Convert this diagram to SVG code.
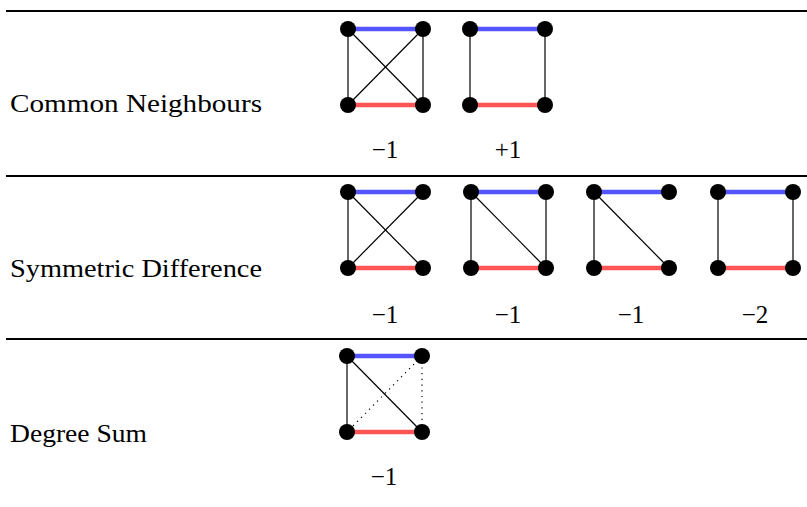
<svg xmlns="http://www.w3.org/2000/svg" width="807" height="507" viewBox="0 0 807 507">
<style>
.rule{stroke:#000;stroke-width:2}
.e{stroke:#000;stroke-width:1.2;fill:none}
.d{stroke:#000;stroke-width:1.2;stroke-dasharray:1.2 4.5;fill:none}
.b{stroke:#5555ff;stroke-width:4.5}
.r{stroke:#ff5555;stroke-width:4.5}
.n{fill:#000}
.lbl{font-family:"Liberation Serif",serif;font-size:25px;fill:#000}
.num{font-family:"Liberation Serif",serif;font-size:25px;fill:#000;text-anchor:middle}
</style>
<defs>
<g id="nodes">
<circle class="n" cx="0" cy="0" r="8"/>
<circle class="n" cx="75" cy="0" r="8"/>
<circle class="n" cx="0" cy="76" r="8"/>
<circle class="n" cx="75" cy="76" r="8"/>
</g>
</defs>
<g id="rules">
<line class="rule" x1="6" y1="11" x2="807" y2="11"/>
<line class="rule" x1="6" y1="176" x2="807" y2="176"/>
<line class="rule" x1="6" y1="339" x2="807" y2="339"/>
</g>
<g id="labels">
<text class="lbl" x="10" y="112" textLength="252" lengthAdjust="spacingAndGlyphs">Common Neighbours</text>
<text class="lbl" x="10" y="277" textLength="252" lengthAdjust="spacingAndGlyphs">Symmetric Difference</text>
<text class="lbl" x="10" y="442" textLength="137" lengthAdjust="spacingAndGlyphs">Degree Sum</text>
</g>
<g id="connectors">
<!-- row 1 graph 1 -->
<g transform="translate(348,29)">
<line class="e" x1="0" y1="0" x2="0" y2="76"/><line class="e" x1="75" y1="0" x2="75" y2="76"/>
<line class="e" x1="0" y1="0" x2="75" y2="76"/><line class="e" x1="75" y1="0" x2="0" y2="76"/>
<line class="b" x1="0" y1="0" x2="75" y2="0"/><line class="r" x1="0" y1="76" x2="75" y2="76"/>
</g>
<!-- row 1 graph 2 -->
<g transform="translate(470,29)">
<line class="e" x1="0" y1="0" x2="0" y2="76"/><line class="e" x1="75" y1="0" x2="75" y2="76"/>
<line class="b" x1="0" y1="0" x2="75" y2="0"/><line class="r" x1="0" y1="76" x2="75" y2="76"/>
</g>
<!-- row 2 graph 1 -->
<g transform="translate(348,192)">
<line class="e" x1="0" y1="0" x2="0" y2="76"/>
<line class="e" x1="0" y1="0" x2="75" y2="76"/><line class="e" x1="75" y1="0" x2="0" y2="76"/>
<line class="b" x1="0" y1="0" x2="75" y2="0"/><line class="r" x1="0" y1="76" x2="75" y2="76"/>
</g>
<!-- row 2 graph 2 -->
<g transform="translate(471,192)">
<line class="e" x1="0" y1="0" x2="0" y2="76"/><line class="e" x1="75" y1="0" x2="75" y2="76"/>
<line class="e" x1="0" y1="0" x2="75" y2="76"/>
<line class="b" x1="0" y1="0" x2="75" y2="0"/><line class="r" x1="0" y1="76" x2="75" y2="76"/>
</g>
<!-- row 2 graph 3 -->
<g transform="translate(594,192)">
<line class="e" x1="0" y1="0" x2="0" y2="76"/>
<line class="e" x1="0" y1="0" x2="75" y2="76"/>
<line class="b" x1="0" y1="0" x2="75" y2="0"/><line class="r" x1="0" y1="76" x2="75" y2="76"/>
</g>
<!-- row 2 graph 4 -->
<g transform="translate(718,192)">
<line class="e" x1="0" y1="0" x2="0" y2="76"/><line class="e" x1="75" y1="0" x2="75" y2="76"/>
<line class="b" x1="0" y1="0" x2="75" y2="0"/><line class="r" x1="0" y1="76" x2="75" y2="76"/>
</g>
<!-- row 3 graph 1 -->
<g transform="translate(347,356)">
<line class="e" x1="0" y1="0" x2="0" y2="76"/>
<line class="e" x1="0" y1="0" x2="75" y2="76"/>
<line class="d" x1="75" y1="0" x2="0" y2="76"/>
<line class="d" x1="75" y1="0" x2="75" y2="76"/>
<line class="b" x1="0" y1="0" x2="75" y2="0"/><line class="r" x1="0" y1="76" x2="75" y2="76"/>
</g>
</g>
<g id="node-r1g1"><use href="#nodes" x="348" y="29"/><text class="num" x="385" y="158">−1</text></g>
<g id="node-r1g2"><use href="#nodes" x="470" y="29"/><text class="num" x="508" y="158">+1</text></g>
<g id="node-r2g1"><use href="#nodes" x="348" y="192"/><text class="num" x="385" y="323">−1</text></g>
<g id="node-r2g2"><use href="#nodes" x="471" y="192"/><text class="num" x="508" y="323">−1</text></g>
<g id="node-r2g3"><use href="#nodes" x="594" y="192"/><text class="num" x="631" y="323">−1</text></g>
<g id="node-r2g4"><use href="#nodes" x="718" y="192"/><text class="num" x="755" y="323">−2</text></g>
<g id="node-r3g1"><use href="#nodes" x="347" y="356"/><text class="num" x="384" y="485">−1</text></g>
</svg>
